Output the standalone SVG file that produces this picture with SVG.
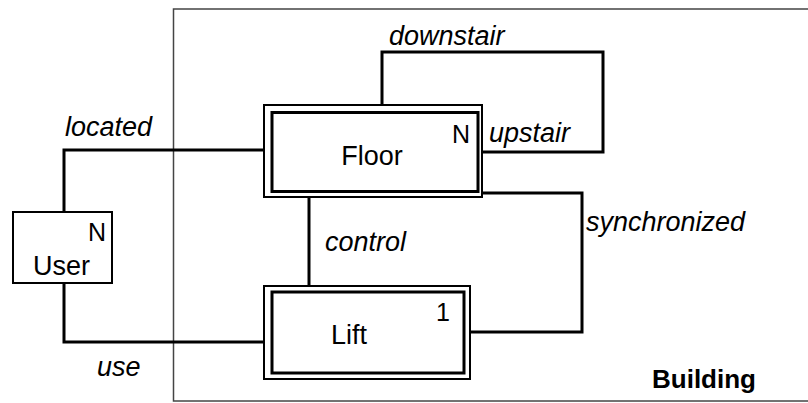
<svg xmlns="http://www.w3.org/2000/svg" width="808" height="403" viewBox="0 0 808 403">
<style>
.conn{fill:none;stroke:#000;stroke-width:3}
.outer{fill:#fff;stroke:#000;stroke-width:2}
.inner{fill:none;stroke:#000;stroke-width:3}
.name{font-family:"Liberation Sans",Arial,sans-serif;font-size:27px;fill:#000}
.card{font-family:"Liberation Sans",Arial,sans-serif;font-size:25px;fill:#000}
.rel{font-family:"Liberation Sans",Arial,sans-serif;font-size:27px;font-style:italic;fill:#000}
.bld{font-family:"Liberation Sans",Arial,sans-serif;font-size:26px;font-weight:bold;fill:#000}
</style>
<rect width="808" height="403" fill="#fff"/>
<g id="building">
<rect x="173.5" y="9" width="700" height="392" fill="none" stroke="#444" stroke-width="1.5"/>
<text class="bld" x="652" y="388">Building</text>
</g>
<g id="connectors">
<path class="conn" d="M64 212 V150 H264"/>
<path class="conn" d="M64 283 V342 H264"/>
<path class="conn" d="M382 105 V52 H603 V152 H482"/>
<path class="conn" d="M309 197 V286"/>
<path class="conn" d="M482 193 H582 V332 H470"/>
<text class="rel" x="65" y="136">located</text>
<text class="rel" x="97" y="376">use</text>
<text class="rel" x="389" y="45">downstair</text>
<text class="rel" x="489" y="142">upstair</text>
<text class="rel" x="325" y="251">control</text>
<text class="rel" x="586" y="231">synchronized</text>
</g>
<g id="floor">
<rect class="outer" x="264" y="105" width="218" height="92"/>
<rect class="inner" x="272" y="112.5" width="206" height="79"/>
<text class="name" x="372" y="165" text-anchor="middle">Floor</text>
<text class="card" x="452" y="143">N</text>
</g>
<g id="lift">
<rect class="outer" x="264" y="286" width="206" height="93"/>
<rect class="inner" x="272" y="292" width="192" height="81"/>
<text class="name" x="331" y="344">Lift</text>
<text class="card" x="436" y="321">1</text>
</g>
<g id="user">
<rect class="outer" x="13" y="212" width="99" height="71"/>
<text class="name" x="33" y="275">User</text>
<text class="card" x="88" y="241">N</text>
</g>
</svg>
